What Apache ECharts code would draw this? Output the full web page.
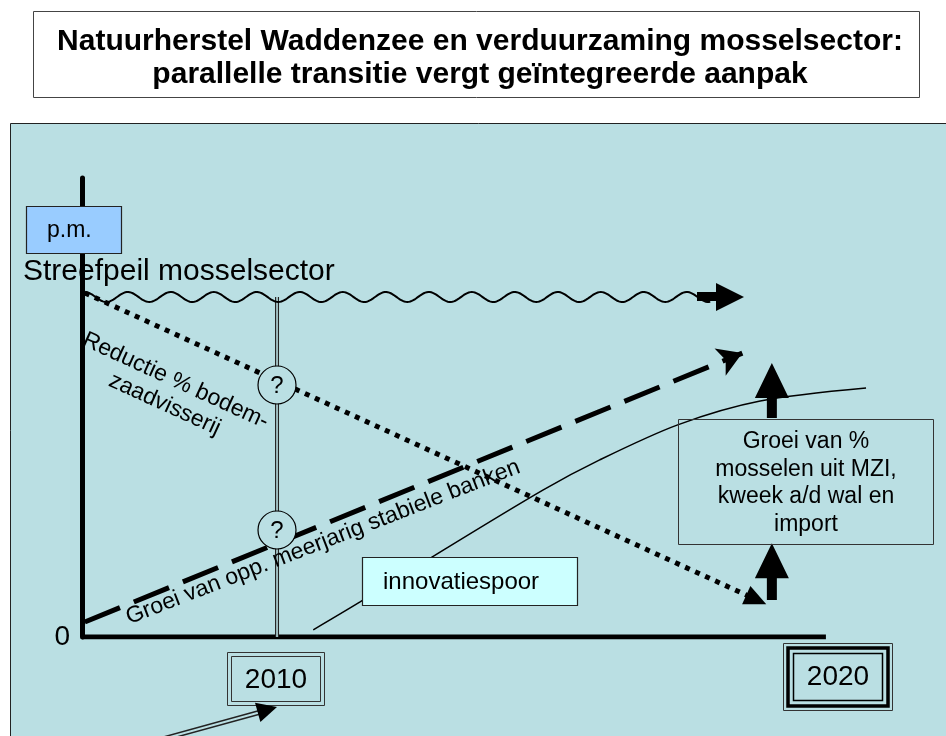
<!DOCTYPE html>
<html lang="nl">
<head>
    <meta http-equiv="Content-Type" content="text/html; charset=utf-8"/>
    <title>Natuurherstel Waddenzee en verduurzaming mosselsector</title>
    <script src="https://cdn.jsdelivr.net/npm/echarts@6/dist/echarts.min.js"></script>
    <style type="text/css">
        html, body { height: 100%; margin: 0; background: #fff; }
        #main { width: 946px; height: 736px; }
    </style>
</head>
<body>
<div id="main"></div>
<script>
    // x = jaar, y = niveau (streefpeil = 100)
    var tijdas = [[2006.5, 0], [2019.85, 0]];
    var streefpeil = [2006.55, 2017.8, 2018.38, 100];            // begin, einde golf, pijlpunt, niveau
    var reductieBodemzaad = [[2006.55, 101.2], [2018.6, 11]];
    var groeiStabieleBanken = [[2006.55, 4.4], [2018.35, 83.5]];
    var ijkjaar = [[2010, 0], [2010, 100]];
    var innovatiespoor = [[2010.65, 2.1], [2011.49, 10.3], [2012.78, 23.5], [2014.77, 43.2],
        [2015.79, 52.1], [2017.19, 62.4], [2018.67, 69.4], [2020.57, 73.2]];
    var groeiAlternatief = [[2018.88, 10.9, 27.6], [2018.88, 64.4, 80.6]]; // x, voet, punt

    var bg = '#badfe3';
    var font = 'Liberation Sans, Arial, sans-serif';

    var myChart = echarts.init(document.getElementById('main'));

    function txt(x, y, s, size, extra) {
        var o = {type: 'text', x: x, y: y, z: 60,
            style: {text: s, fontSize: size, fontFamily: font, fill: '#000', align: 'left', verticalAlign: 'middle'}};
        for (var k in extra) {
            if (k === 'style') { for (var j in extra.style) o.style[j] = extra.style[j]; }
            else o[k] = extra[k];
        }
        return o;
    }

    var graphics = [
        // paneel
        {type: 'rect', z: -10, shape: {x: 10.5, y: 123.5, width: 960, height: 640}, style: {fill: bg, stroke: '#222', lineWidth: 1}},
        // titel
        {type: 'rect', z: 50, shape: {x: 33.5, y: 11.5, width: 886, height: 86}, style: {fill: '#fff', stroke: '#444', lineWidth: 1}},
        txt(480, 42, 'Natuurherstel Waddenzee en verduurzaming mosselsector:', 30, {style: {fontWeight: 'bold', align: 'center'}}),
        txt(480, 75, 'parallelle transitie vergt geïntegreerde aanpak', 30, {style: {fontWeight: 'bold', align: 'center'}}),
        // p.m.
        {type: 'rect', z: 50, shape: {x: 26.5, y: 206.5, width: 95, height: 47}, style: {fill: '#99ccff', stroke: '#222', lineWidth: 1.2}},
        txt(47, 231, 'p.m.', 23),
        txt(23, 272, 'Streefpeil mosselsector', 30),
        // vraagtekens
        {type: 'circle', z: 50, shape: {cx: 277, cy: 385, r: 19}, style: {fill: bg, stroke: '#000', lineWidth: 1.2}},
        txt(277, 386, '?', 24, {style: {align: 'center'}}),
        {type: 'circle', z: 50, shape: {cx: 277, cy: 530, r: 19}, style: {fill: bg, stroke: '#000', lineWidth: 1.2}},
        txt(277, 531, '?', 24, {style: {align: 'center'}}),
        // schuine teksten
        txt(181, 369, 'Reductie % bodem-\nzaadvisserij', 23, {rotation: -0.43, style: {align: 'center', verticalAlign: 'top', lineHeight: 26}}),
        txt(131, 629, 'Groei van opp. meerjarig stabiele banken', 23, {rotation: 0.37, style: {verticalAlign: 'bottom'}}),
        // innovatiespoor
        {type: 'rect', z: 50, shape: {x: 362.5, y: 557.5, width: 215, height: 48}, style: {fill: '#ccffff', stroke: '#222', lineWidth: 1.2}},
        txt(383, 582, 'innovatiespoor', 24),
        // groei box
        {type: 'rect', z: 50, shape: {x: 678.5, y: 419.5, width: 255, height: 125}, style: {fill: null, stroke: '#333', lineWidth: 1}},
        txt(806, 483, 'Groei van %\nmosselen uit MZI,\nkweek a/d wal en\nimport', 23, {style: {align: 'center', lineHeight: 27.5}}),
        // 2010
        {type: 'rect', z: 50, shape: {x: 227.5, y: 652.5, width: 97, height: 53}, style: {fill: null, stroke: '#333', lineWidth: 1}},
        {type: 'rect', z: 50, shape: {x: 231.5, y: 656.5, width: 89, height: 45}, style: {fill: null, stroke: '#333', lineWidth: 1}},
        txt(276, 680, '2010', 28, {style: {align: 'center'}}),
        // 2020
        {type: 'rect', z: 50, shape: {x: 783.5, y: 643.5, width: 109, height: 67}, style: {fill: null, stroke: '#333', lineWidth: 1}},
        {type: 'rect', z: 50, shape: {x: 788, y: 648, width: 100, height: 58}, style: {fill: null, stroke: '#000', lineWidth: 3.5}},
        {type: 'rect', z: 50, shape: {x: 793.5, y: 653.5, width: 89, height: 47}, style: {fill: null, stroke: '#000', lineWidth: 1.5}},
        txt(838, 677, '2020', 28, {style: {align: 'center'}}),
        // wijzer naar 2010
        {type: 'polyline', z: 50, shape: {points: [[130, 748], [259, 712.5]]}, style: {stroke: '#222', lineWidth: 5}},
        {type: 'polyline', z: 51, shape: {points: [[130, 748], [259, 712.5]]}, style: {stroke: bg, lineWidth: 2}},
        {type: 'polygon', z: 52, shape: {points: [[277, 707], [260.4, 721.9], [255, 702.7]]}, style: {fill: '#000'}}
    ];

    var option = {
        animation: false,
        backgroundColor: '#fff',
        grid: {left: 82, right: 56, top: 178, bottom: 99},
        xAxis: {
            type: 'value', min: 2006.5, max: 2021,
            splitLine: {show: false}, axisTick: {show: false}, axisLabel: {show: false},
            axisLine: {show: false}
        },
        yAxis: {
            type: 'value', min: 0, max: 135, interval: 135,
            splitLine: {show: false}, axisTick: {show: false},
            axisLabel: {margin: 12, fontSize: 28, fontFamily: font, color: '#000',
                formatter: function (v) { return v === 0 ? '0' : ''; }},
            axisLine: {show: true, lineStyle: {color: '#000', width: 5}}
        },
        graphic: graphics,
        series: [
            {
                type: 'line', data: tijdas, symbol: 'none', z: 3,
                lineStyle: {color: '#000', width: 5}
            },
            {
                type: 'custom', z: 5, clip: false,
                encode: {x: [0, 1, 2], y: 3},
                data: [streefpeil],
                renderItem: function (params, api) {
                    var p0 = api.coord([api.value(0), api.value(3)]);
                    var p1 = api.coord([api.value(1), api.value(3)]);
                    var tip = api.coord([api.value(2), api.value(3)]);
                    var pts = [];
                    for (var x = p0[0]; x <= p1[0]; x += 1.5) {
                        pts.push([x, p0[1] - 5 * Math.cos((x - p0[0]) / 43 * 2 * Math.PI)]);
                    }
                    return {type: 'group', children: [
                        {type: 'polyline', shape: {points: pts}, style: {stroke: '#000', lineWidth: 2, fill: null}},
                        {type: 'rect', shape: {x: tip[0] - 47, y: tip[1] - 5, width: 20, height: 9}, style: {fill: '#000'}},
                        {type: 'polygon', shape: {points: [[tip[0] - 28, tip[1] - 14], [tip[0], tip[1]], [tip[0] - 28, tip[1] + 14]]}, style: {fill: '#000'}}
                    ]};
                }
            },
            {
                type: 'line', data: ijkjaar, symbol: 'none', z: 3,
                lineStyle: {color: '#222', width: 4}
            },
            {
                type: 'line', data: ijkjaar, symbol: 'none', z: 3,
                lineStyle: {color: bg, width: 1.6}
            },
            {
                type: 'line', data: [], z: 4,
                markLine: {
                    silent: true, animation: false, symbol: ['none', 'triangle'], symbolSize: [20, 22],
                    label: {show: false}, emphasis: {disabled: true},
                    lineStyle: {color: '#000', width: 5, type: [5, 6]},
                    data: [[{coord: reductieBodemzaad[0]}, {coord: reductieBodemzaad[1]}]]
                }
            },
            {
                type: 'line', data: [], z: 4,
                markLine: {
                    silent: true, animation: false, symbol: ['none', 'arrow'], symbolSize: [22, 24],
                    label: {show: false}, emphasis: {disabled: true},
                    lineStyle: {color: '#000', width: 5, type: [38, 15]},
                    data: [[{coord: groeiStabieleBanken[0]}, {coord: groeiStabieleBanken[1]}]]
                }
            },
            {
                type: 'line', data: innovatiespoor, symbol: 'none', smooth: 0.3, clip: false, z: 4,
                lineStyle: {color: '#000', width: 1.5}
            },
            {
                type: 'custom', z: 6, clip: false,
                encode: {x: 0, y: [1, 2]},
                data: groeiAlternatief,
                renderItem: function (params, api) {
                    var b = api.coord([api.value(0), api.value(1)]);
                    var t = api.coord([api.value(0), api.value(2)]);
                    var x = b[0], hb = t[1] + 35;
                    return {type: 'polygon', shape: {points: [
                        [x - 5, b[1]], [x - 5, hb], [x - 17, hb], [x, t[1]], [x + 17, hb], [x + 5, hb], [x + 5, b[1]]
                    ]}, style: {fill: '#000'}};
                }
            }
        ]
    };

    myChart.setOption(option);
</script>
</body>
</html>
